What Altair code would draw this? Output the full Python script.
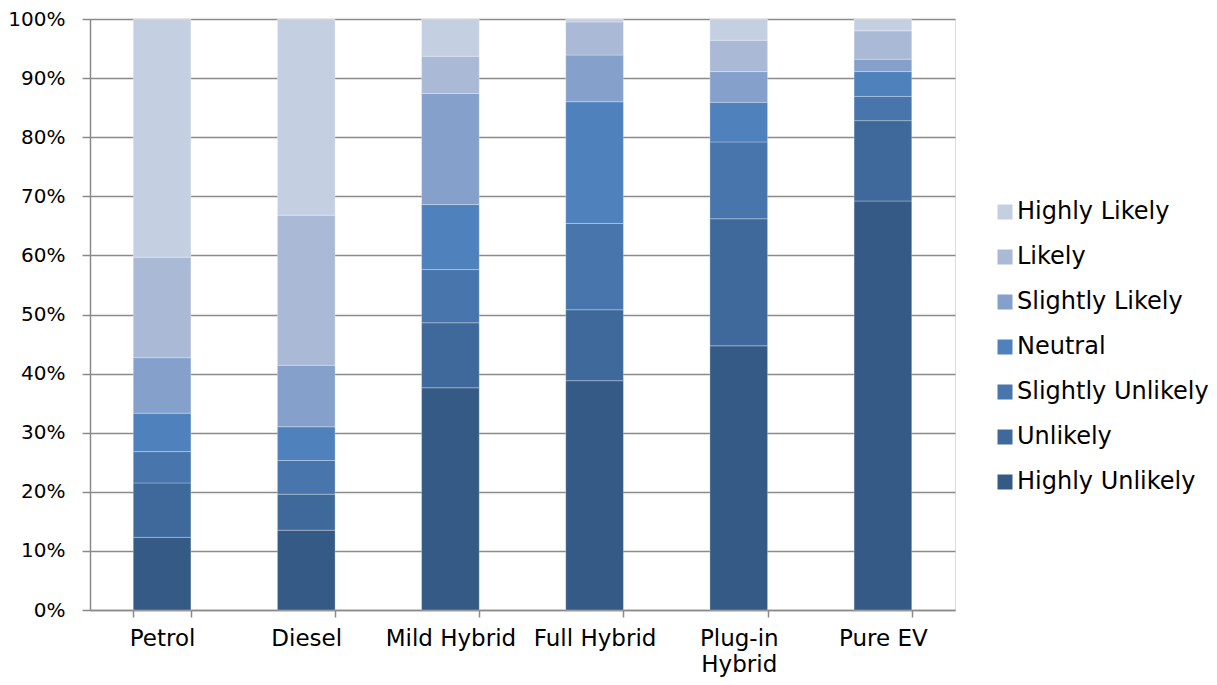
import altair as alt
import pandas as pd

vehicles = ["Petrol", "Diesel", "Mild Hybrid", "Full Hybrid", "Plug-in Hybrid", "Pure EV"]
responses = ["Highly Unlikely", "Unlikely", "Slightly Unlikely", "Neutral",
             "Slightly Likely", "Likely", "Highly Likely"]

highly_unlikely = [12.3, 13.5, 37.6, 38.8, 44.7, 69.2]
unlikely = [9.2, 6.1, 11.0, 12.0, 21.5, 13.6]
slightly_unlikely = [5.3, 5.7, 9.0, 14.6, 13.0, 4.1]
neutral = [6.5, 5.7, 11.0, 20.6, 6.7, 4.2]
slightly_likely = [9.4, 10.4, 18.8, 7.9, 5.2, 2.1]
likely = [17.0, 25.4, 6.3, 5.6, 5.3, 4.8]
highly_likely = [40.3, 33.2, 6.3, 0.5, 3.6, 2.0]

series = [highly_unlikely, unlikely, slightly_unlikely, neutral,
          slightly_likely, likely, highly_likely]
colors = ["#355A86", "#3F699B", "#4775AC", "#4F81BD", "#85A1CB", "#AAB9D6", "#C4CFE2"]

rows = []
for i, (resp, vals) in enumerate(zip(responses, series)):
    for v, val in zip(vehicles, vals):
        rows.append({"vehicle": v, "response": resp, "value": val, "idx": i})
df = pd.DataFrame(rows)

legend_domain = responses[::-1]
legend_range = colors[::-1]

chart = alt.Chart(df).mark_bar(
    stroke="#ffffff", strokeWidth=0.8, strokeOpacity=0.35
).encode(
    x=alt.X("vehicle:N", sort=vehicles, title=None,
            scale=alt.Scale(paddingInner=0.6, paddingOuter=0.3),
            axis=alt.Axis(labelAngle=0, tickBand="extent", tickSize=7,
                          labelPadding=10, labelFontSize=23, labelColor="#000000",
                          labelFont="DejaVu Sans", labelLineHeight=26,
                          labelBaseline="top",
                          labelExpr="datum.label == 'Plug-in Hybrid' ? ['Plug-in', 'Hybrid'] : datum.label",
                          domainColor="#8a8a8a", domainWidth=1.5,
                          tickColor="#8a8a8a", tickWidth=1.5, grid=False)),
    y=alt.Y("value:Q", stack="normalize", title=None,
            scale=alt.Scale(domain=[0, 1], nice=False),
            axis=alt.Axis(format=".0%", values=[i / 10 for i in range(11)],
                          tickSize=8, labelPadding=17, labelFontSize=20,
                          labelColor="#000000", labelFont="DejaVu Sans",
                          domainColor="#8a8a8a", domainWidth=1.5,
                          tickColor="#8a8a8a", tickWidth=1.5,
                          grid=True, gridColor="#8a8a8a", gridWidth=1.4)),
    color=alt.Color("response:N",
                    scale=alt.Scale(domain=legend_domain, range=legend_range),
                    legend=alt.Legend(title=None, orient="none", legendX=903, legendY=181,
                                      symbolType="square", symbolSize=225,
                                      symbolStrokeWidth=0, labelFontSize=24,
                                      labelFont="DejaVu Sans", labelColor="#000000",
                                      labelLimit=400,
                                      rowPadding=21, labelOffset=0, padding=0)),
    order=alt.Order("idx:Q", sort="ascending"),
).properties(
    width=865, height=591,
    autosize=alt.AutoSizeParams(type="none"),
    padding={"left": 82, "top": 11, "right": 254, "bottom": 67},
).configure_view(stroke=None).configure(background="#ffffff")

chart.save("out.html", embed_options={"renderer": "svg", "actions": False})
